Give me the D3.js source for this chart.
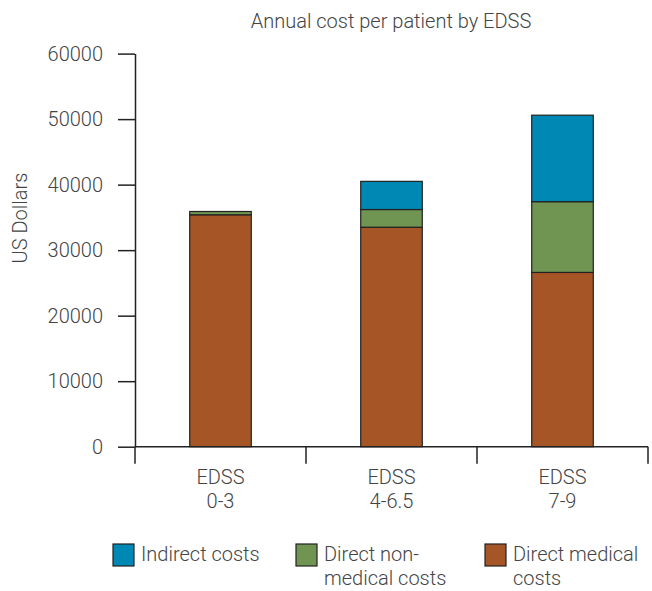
<!DOCTYPE html>
<html>
<head>
<meta charset="utf-8">
<script src="https://cdn.jsdelivr.net/npm/d3@7"></script>
<style>
body { margin: 0; background: #fff; }
svg text { font-family: Roboto, "Liberation Sans", sans-serif; font-weight: 300; fill: #444; font-size: 20px; }
</style>
</head>
<body>
<svg width="652" height="591"></svg>
<script>
// data
var categories = [["EDSS", "0-3"], ["EDSS", "4-6.5"], ["EDSS", "7-9"]];
var directMedical = [35400, 33500, 26600];
var directNonMedical = [500, 2700, 10800];
var indirect = [0, 4300, 13200];
var yTicks = [0, 10000, 20000, 30000, 40000, 50000, 60000];
var seriesNames = ["Direct medical costs", "Direct non-medical costs", "Indirect costs"];
var colors = ["#a55526", "#709552", "#0088b5"];

var svg = d3.select("svg");
var plotLeft = 135, plotRight = 648, plotTop = 53.6, plotBottom = 446.7;

var rows = categories.map(function(c, i) {
  return { cat: c.join(" "), medical: directMedical[i], nonmedical: directNonMedical[i], indirect: indirect[i] };
});
var keys = ["medical", "nonmedical", "indirect"];
var stack = d3.stack().keys(keys)(rows);

var x = d3.scaleBand().domain(rows.map(function(d) { return d.cat; })).range([plotLeft, plotRight]).paddingInner(0).paddingOuter(0);
var y = d3.scaleLinear().domain([0, 60000]).range([plotBottom, plotTop]);
var bw = x.bandwidth() * 0.36;

// title
svg.append("text").attr("x", 391).attr("y", 28).attr("text-anchor", "middle")
  .text("Annual cost per patient by EDSS");

// y label
svg.append("text").attr("transform", "translate(27,218) rotate(-90)").attr("text-anchor", "middle")
  .text("US Dollars");

// bars
stack.forEach(function(s, k) {
  svg.append("g").selectAll("rect").data(s).enter().append("rect")
    .filter(function(d) { return d[1] - d[0] > 0; })
    .attr("x", function(d) { return x(d.data.cat) + (x.bandwidth() - bw) / 2; })
    .attr("y", function(d) { return y(d[1]); })
    .attr("width", bw)
    .attr("height", function(d) { return y(d[0]) - y(d[1]); })
    .attr("fill", colors[k])
    .attr("stroke", "#222")
    .attr("stroke-width", 1.2);
});

// y axis
var yAxis = svg.append("g").attr("transform", "translate(" + plotLeft + ",0)")
  .call(d3.axisLeft(y).tickValues(yTicks).tickFormat(d3.format("d")).tickSize(17).tickSizeOuter(0).tickPadding(15));
yAxis.selectAll("text").style("font-size", "20px").attr("fill", "#444");
yAxis.select(".domain").attr("stroke", "#222").attr("stroke-width", 1.5);
yAxis.selectAll(".tick line").attr("stroke", "#222").attr("stroke-width", 1.5);

// x axis, ticks at band edges
var xAxis = svg.append("g").attr("transform", "translate(0," + plotBottom + ")");
xAxis.append("line").attr("x1", plotLeft).attr("x2", plotRight).attr("stroke", "#222").attr("stroke-width", 1.5);
var edges = [plotLeft].concat(rows.map(function(d) { return x(d.cat) + x.bandwidth(); }));
xAxis.selectAll(".edge").data(edges).enter().append("line")
  .attr("x1", function(d) { return d; }).attr("x2", function(d) { return d; })
  .attr("y1", 0).attr("y2", 17).attr("stroke", "#222").attr("stroke-width", 1.5);
rows.forEach(function(d, i) {
  var t = xAxis.append("text").attr("text-anchor", "middle");
  categories[i].forEach(function(line, j) {
    t.append("tspan").attr("x", x(d.cat) + x.bandwidth() / 2).attr("y", 37 + j * 24).text(line);
  });
});

// legend
var legendItems = [
  { k: 2, x: 113, lines: ["Indirect costs"] },
  { k: 1, x: 296, lines: ["Direct non-", "medical costs"] },
  { k: 0, x: 485, lines: ["Direct medical", "costs"] }
];
legendItems.forEach(function(l) {
  svg.append("rect").attr("x", l.x).attr("y", 544).attr("width", 21).attr("height", 22)
    .attr("fill", colors[l.k]).attr("stroke", "#222").attr("stroke-width", 1.2);
  var t = svg.append("text");
  l.lines.forEach(function(line, j) {
    t.append("tspan").attr("x", l.x + 28).attr("y", 561 + j * 24).text(line);
  });
});
</script>
</body>
</html>
